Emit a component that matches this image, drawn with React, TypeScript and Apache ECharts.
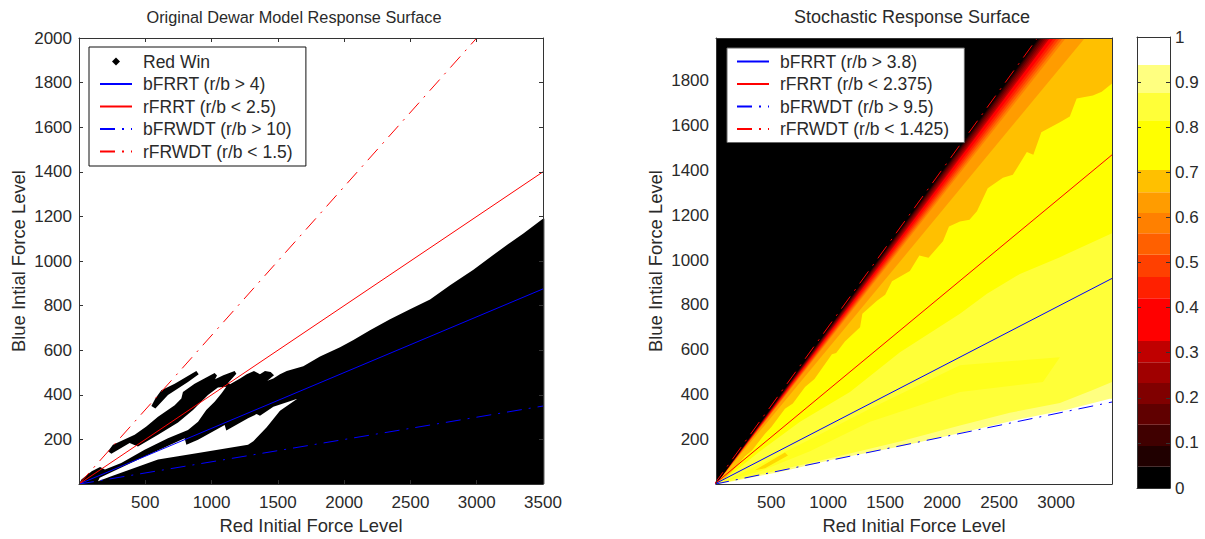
import React, { useEffect, useRef } from "react";
import * as echarts from "echarts";

// ---------- tick labels ----------
const leftXTicks = [500, 1000, 1500, 2000, 2500, 3000, 3500];
const leftYTicks = [200, 400, 600, 800, 1000, 1200, 1400, 1600, 1800, 2000];
const rightXTicks = [500, 1000, 1500, 2000, 2500, 3000];
const rightYTicks = [200, 400, 600, 800, 1000, 1200, 1400, 1600, 1800];
const barTicks = [0, 0.1, 0.2, 0.3, 0.4, 0.5, 0.6, 0.7, 0.8, 0.9, 1];

// ---------- left panel: threshold lines ----------
const leftBFRRT = [[0, 0], [3500, 875]];
const leftRFRRT = [[0, 0], [3500, 1400]];
const leftBFRWDT = [[0, 0], [3500, 350]];
const leftRFRWDT = [[0, 0], [3000, 2000]];

// ---------- left panel: Red Win region outlines ----------
const redWinMain = [[0, 0], [3510, 0], [3510, 1190], [3497, 1188], [3352, 1124], [3176, 1050], [2975, 961], [2799, 892], [2648, 828], [2497, 784], [2346, 739], [2195, 690], [2070, 646], [1969, 614], [1818, 572], [1692, 528], [1567, 507], [1516, 492], [1466, 473], [1421, 463], [1471, 488], [1446, 503], [1403, 507], [1365, 492], [1320, 507], [1265, 492], [1215, 473], [1139, 448], [1126, 454], [1187, 495], [1174, 507], [1089, 488], [1026, 470], [1041, 487], [1023, 498], [872, 450], [784, 413], [772, 384], [722, 354], [596, 302], [508, 258], [420, 221], [256, 176], [219, 147], [244, 136], [382, 184], [445, 169], [596, 221], [747, 276], [860, 332], [973, 399], [1048, 433], [1111, 436], [1074, 406], [1023, 369], [960, 332], [898, 280], [822, 243], [671, 206], [495, 154], [319, 95], [196, 66], [159, 77], [96, 58], [18, 21]];
const redWinGap = [[156, 28], [495, 124], [797, 206], [810, 176], [898, 199], [1099, 265], [1111, 240], [1275, 295], [1340, 314], [1365, 306], [1466, 347], [1647, 383], [1516, 329], [1416, 255], [1315, 192], [1275, 176], [898, 139], [596, 110], [244, 35], [143, 13]];
const redWinStrip = [[546, 350], [576, 384], [621, 421], [722, 450], [885, 507], [903, 492], [822, 458], [671, 399], [576, 339]];

// ---------- right panel: threshold lines ----------
const rightBFRRT = [[0, 0], [3490, 918]];
const rightRFRRT = [[0, 0], [3490, 1469]];
const rightBFRWDT = [[0, 0], [3490, 367]];
const rightRFRWDT = [[0, 0], [2836, 1990]];

// ---------- right panel: edges between probability levels ----------
const surfaceXMin = 16;
const surfaceXMax = 3490;
const surfaceYMin = 1;
const surfaceYMax = 1990;
const whiteEdge = [[165, 14], [604, 58], [1042, 111], [1630, 169], [2217, 235], [2656, 288], [3094, 333], [3471, 381], [3490, 381]];
const paleEdge = [[139, 14], [490, 54], [1016, 116], [1630, 191], [2156, 262], [2594, 319], [3033, 363], [3322, 421], [3490, 456]];
const lemonEdge = [[183, 58], [402, 147], [753, 279], [1191, 412], [1630, 589], [2156, 761], [2393, 850], [2682, 938], [3033, 1013], [3471, 1115], [3490, 1119]];
const yellowPatch = [[95, 14], [402, 58], [840, 147], [1367, 279], [2156, 412], [2884, 456], [3033, 567], [2156, 531], [1367, 337], [840, 200], [402, 89]];
const amberFleck = [[358, 63], [621, 142], [647, 129], [446, 72]];
const amberEdge = [[95, 27], [180, 70], [270, 125], [330, 150], [446, 226], [500, 255], [621, 337], [690, 360], [797, 434], [880, 470], [1033, 580], [1070, 585], [1147, 637], [1280, 700], [1300, 760], [1428, 819], [1500, 845], [1560, 905], [1717, 951], [1800, 1020], [1880, 1010], [2007, 1084], [2060, 1150], [2156, 1172], [2240, 1180], [2305, 1217], [2400, 1320], [2533, 1367], [2620, 1380], [2743, 1482], [2800, 1470], [2870, 1570], [3033, 1614], [3120, 1640], [3180, 1720], [3322, 1734], [3400, 1750], [3490, 1787]];
// red-force value at which each darker level starts along the top edge, with its palette level
const rayTopValues = [3252, 3085, 3059, 3033, 3007, 2980, 2945, 2928, 2910, 2893, 2875, 2862, 2849];
const rayLevels = [12, 11, 10, 9, 8, 7, 6, 5, 4, 3, 2, 1, 0];

// ---------- colour bar ----------
const barEdges = [0, 0.047, 0.093, 0.14, 0.186, 0.233, 0.279, 0.326, 0.421, 0.468, 0.517, 0.565, 0.61, 0.656, 0.705, 0.814, 0.876, 0.938, 1];
const palette = ["#000000", "#200000", "#400000", "#600000", "#800000", "#a00000", "#c00000", "#ff0000", "#ff2000", "#ff4000", "#ff6000", "#ff8000", "#ff9c00", "#ffc000", "#ffff00", "#ffff38", "#ffff80", "#ffffff"];
const patchColor = "#ffff1c";

const FONT = "'Liberation Sans', Arial, sans-serif";
const INK = "#2a2a2a";
const AXIS = "#333333";

const above = (edge: number[][]) => [[surfaceXMin, surfaceYMin], ...edge, [surfaceXMax, surfaceYMax], [surfaceXMin, surfaceYMax]];
const aboveRay = (top: number) => [[surfaceXMin, surfaceYMin], [top, surfaceYMax], [surfaceXMin, surfaceYMax]];

const surfaceLayers: { points: number[][]; color: string }[] = [
  { points: [[surfaceXMin, surfaceYMin], [surfaceXMax, surfaceYMin], [surfaceXMax, surfaceYMax], [surfaceXMin, surfaceYMax]], color: palette[17] },
  { points: above(whiteEdge), color: palette[16] },
  { points: above(paleEdge), color: palette[15] },
  { points: yellowPatch, color: patchColor },
  { points: amberFleck, color: "#ffd800" },
  { points: above(lemonEdge), color: palette[14] },
  { points: above(amberEdge), color: palette[13] },
  ...rayTopValues.map((top, i) => ({ points: aboveRay(top), color: palette[rayLevels[i]] })),
];

const redWinLayers = [
  { points: redWinMain, color: "#000000" },
  { points: redWinGap, color: "#ffffff" },
  { points: redWinStrip, color: "#000000" },
];

const polygonSeries = (name: string, axis: number, layers: { points: number[][]; color: string }[]) => ({
  type: "custom",
  name,
  xAxisIndex: axis,
  yAxisIndex: axis,
  silent: true,
  clip: false,
  itemStyle: { color: "#000000" },
  encode: { x: 0, y: 1 },
  data: layers.map((l) => l.points[0]),
  renderItem: (params: any, api: any) => {
    const layer = layers[params.dataIndex];
    return {
      type: "polygon",
      shape: { points: layer.points.map((p) => api.coord(p)) },
      style: { fill: layer.color },
    };
  },
});

const lineSeries = (name: string, axis: number, data: number[][], color: string, dashed: boolean) => ({
  type: "line",
  name,
  xAxisIndex: axis,
  yAxisIndex: axis,
  data,
  showSymbol: false,
  symbol: "none",
  silent: true,
  z: 5,
  lineStyle: { color, width: 1, type: dashed ? [15, 7, 2, 7] : "solid" },
  itemStyle: { color },
});

const LABEL = { color: INK, fontSize: 17, fontFamily: FONT };
const NAME_TEXT = { color: INK, fontSize: 18.4, fontFamily: FONT };
const plain = (v: number) => String(v);

const makeX = (grid: number, min: number, max: number, ticks: number[], primary: boolean, tickShow: boolean) => ({
  type: "value",
  gridIndex: grid,
  position: primary ? "bottom" : "top",
  min,
  max,
  z: 10,
  splitLine: { show: false },
  axisLine: { show: true, onZero: false, lineStyle: { color: AXIS, width: 1 } },
  axisTick: { show: tickShow, inside: true, length: 4, customValues: ticks, lineStyle: { color: AXIS } },
  axisLabel: primary ? { ...LABEL, margin: 10, customValues: ticks, hideOverlap: false, formatter: plain } : { show: false },
  ...(primary ? { name: "Red Initial Force Level", nameLocation: "middle", nameGap: 30, nameTextStyle: NAME_TEXT } : {}),
});

const makeY = (grid: number, min: number, max: number, ticks: number[], primary: boolean, tickShow: boolean) => ({
  type: "value",
  gridIndex: grid,
  position: primary ? "left" : "right",
  min,
  max,
  z: 10,
  splitLine: { show: false },
  axisLine: { show: true, onZero: false, lineStyle: { color: AXIS, width: 1 } },
  axisTick: { show: tickShow, inside: true, length: 4, customValues: ticks, lineStyle: { color: AXIS } },
  axisLabel: primary ? { ...LABEL, margin: 7, customValues: ticks, hideOverlap: false, formatter: plain } : { show: false },
  ...(primary ? { name: "Blue Intial Force Level", nameLocation: "middle", nameGap: 52, nameTextStyle: NAME_TEXT } : {}),
});

const ICON_DIAMOND = "path://M0 0L0 0Z M14 14L14 14Z M7 3L11 7L7 11L3 7Z";

// a line series' legend icon always carries a marker, so the marker is made see-through and only the line remains
const lineEntry = (name: string) => ({ name, itemStyle: { color: "transparent", borderColor: "transparent", borderWidth: 0 } });

const legendBase = {
  orient: "vertical",
  itemWidth: 32,
  itemHeight: 14,
  itemGap: 4.5,
  selectedMode: false,
  backgroundColor: "#ffffff",
  borderWidth: 1,
  align: "left",
  textStyle: { ...LABEL, fontSize: 17.5, padding: [0, 0, 0, 6] },
  z: 20,
};

export default function App() {
  const ref = useRef<HTMLDivElement>(null);
  useEffect(() => {
    document.body.style.margin = "0";
    document.body.style.background = "#ffffff";
    const chart = echarts.init(ref.current!, undefined, { renderer: "svg" });
    chart.setOption({
      animation: false,
      backgroundColor: "#ffffff",
      title: [
        { text: "Original Dewar Model Response Surface", left: 289, top: 4, textAlign: "center", textStyle: { ...LABEL, fontSize: 16.3, fontWeight: "normal" } },
        { text: "Stochastic Response Surface", left: 907, top: 3, textAlign: "center", textStyle: { ...LABEL, fontSize: 18, fontWeight: "normal" } },
      ],
      grid: [
        { left: 79, top: 38, width: 464, height: 450 },
        { left: 716, top: 38, width: 396, height: 450 },
        { left: 1137, top: 37, width: 33, height: 451 },
      ],
      xAxis: [
        makeX(0, 0, 3500, leftXTicks, true, true),
        makeX(0, 0, 3500, leftXTicks, false, true),
        makeX(1, surfaceXMin, surfaceXMax, rightXTicks, true, false),
        makeX(1, surfaceXMin, surfaceXMax, rightXTicks, false, false),
        { ...makeX(2, 0, 1, [], false, false), position: "bottom" },
        { ...makeX(2, 0, 1, [], false, false) },
      ],
      yAxis: [
        makeY(0, 0, 2000, leftYTicks, true, true),
        makeY(0, 0, 2000, leftYTicks, false, true),
        makeY(1, surfaceYMin, surfaceYMax, rightYTicks, true, false),
        makeY(1, surfaceYMin, surfaceYMax, rightYTicks, false, false),
        {
          ...makeY(2, 0, 1, barTicks, false, true),
          axisLabel: { ...LABEL, margin: 5, customValues: barTicks, hideOverlap: false, formatter: plain },
        },
        { ...makeY(2, 0, 1, barTicks, false, true), position: "left" },
      ],
      legend: [
        {
          ...legendBase,
          left: 89,
          top: 47,
          padding: [5.5, 13, 5.5, 10],
          borderColor: "#111111",
          data: [
            { name: "Red Win", icon: ICON_DIAMOND, itemStyle: { color: "#000000" } },
            lineEntry("bFRRT (r/b > 4)"),
            lineEntry("rFRRT (r/b < 2.5)"),
            lineEntry("bFRWDT (r/b > 10)"),
            lineEntry("rFRWDT (r/b < 1.5)"),
          ],
        },
        {
          ...legendBase,
          left: 727,
          top: 48,
          padding: [4.5, 15, 4.5, 9],
          borderColor: "#666666",
          data: [
            lineEntry("bFRRT (r/b > 3.8)"),
            lineEntry("rFRRT (r/b < 2.375)"),
            lineEntry("bFRWDT (r/b > 9.5)"),
            lineEntry("rFRWDT (r/b < 1.425)"),
          ],
        },
      ],
      series: [
        polygonSeries("Red Win", 0, redWinLayers),
        lineSeries("bFRRT (r/b > 4)", 0, leftBFRRT, "#0000ff", false),
        lineSeries("rFRRT (r/b < 2.5)", 0, leftRFRRT, "#ff0000", false),
        lineSeries("bFRWDT (r/b > 10)", 0, leftBFRWDT, "#0000ff", true),
        lineSeries("rFRWDT (r/b < 1.5)", 0, leftRFRWDT, "#ff0000", true),
        polygonSeries("Stochastic surface", 2, surfaceLayers),
        lineSeries("bFRRT (r/b > 3.8)", 2, rightBFRRT, "#0000ff", false),
        lineSeries("rFRRT (r/b < 2.375)", 2, rightRFRRT, "#ff0000", false),
        lineSeries("bFRWDT (r/b > 9.5)", 2, rightBFRWDT, "#0000ff", true),
        lineSeries("rFRWDT (r/b < 1.425)", 2, rightRFRWDT, "#ff0000", true),
        {
          type: "custom",
          name: "Colour scale",
          xAxisIndex: 4,
          yAxisIndex: 4,
          silent: true,
          encode: { y: [0, 1] },
          data: palette.map((_, i) => [barEdges[i], barEdges[i + 1]]),
          renderItem: (params: any, api: any) => {
            const top = api.coord([0, api.value(1)]);
            const bottom = api.coord([0, api.value(0)]);
            return {
              type: "rect",
              shape: { x: params.coordSys.x, y: top[1], width: params.coordSys.width, height: bottom[1] - top[1] },
              style: { fill: palette[params.dataIndex] },
            };
          },
        },
      ],
    });
    return () => chart.dispose();
  }, []);
  return <div ref={ref} style={{ width: 1205, height: 539 }} />;
}
